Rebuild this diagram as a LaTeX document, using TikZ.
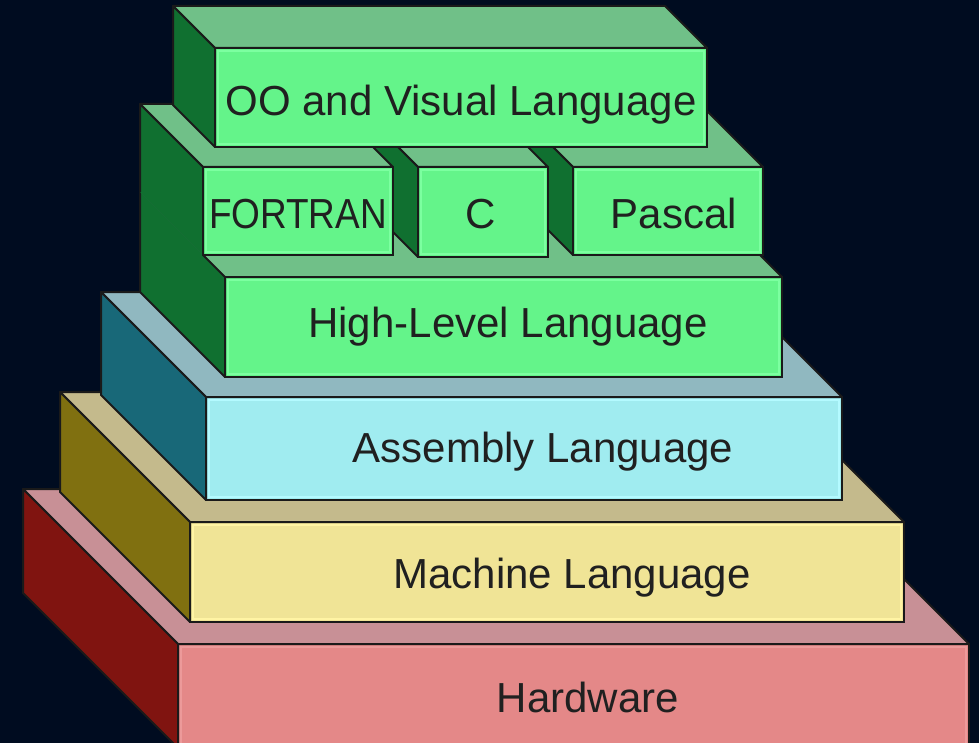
\documentclass[tikz,border=0pt]{standalone}
\usepackage{fontspec}
\setmainfont{Liberation Sans}
\newfontfamily\narrowsans[FakeStretch=0.88]{Liberation Sans}
\usepackage{tikz}
\usetikzlibrary{
    calc,
    positioning,
}
\definecolor{MyNavy}{HTML}{000C20}
\definecolor{MyEdge}{HTML}{1A1A1A}
\definecolor{MyInk}{HTML}{202020}
\definecolor{MyRose}{HTML}{E48888}
\definecolor{MyRoseTop}{HTML}{C89096}
\definecolor{MyRoseSide}{HTML}{801410}
\definecolor{MyRoseLite}{HTML}{EC9A9A}
\definecolor{MyCream}{HTML}{F0E496}
\definecolor{MyCreamTop}{HTML}{C4BA8C}
\definecolor{MyCreamSide}{HTML}{807010}
\definecolor{MyCreamLite}{HTML}{FFF4A4}
\definecolor{MyIce}{HTML}{A0ECF0}
\definecolor{MyIceTop}{HTML}{90B8C0}
\definecolor{MyIceSide}{HTML}{186878}
\definecolor{MyIceLite}{HTML}{B4FAFF}
\definecolor{MyMint}{HTML}{64F48A}
\definecolor{MyMintTop}{HTML}{70C088}
\definecolor{MyMintSide}{HTML}{107030}
\definecolor{MyMintLite}{HTML}{7CFFA0}
\tikzset{
    >=latex
}

\begin{document}
\begin{tikzpicture}[
    x=1pt,y=-1pt,
    front/.style={draw=MyEdge,line width=2.5pt,anchor=north west,inner sep=0pt,outer sep=0pt},
    face/.style={draw=MyEdge,line width=2pt,line join=round},
    lite/.style={draw=#1,line width=2.5pt},
    lbl/.style={anchor=base,font=\fontsize{42}{42}\selectfont,text=MyInk,inner sep=0pt}
    ]
    \useasboundingbox (0,0) rectangle (979,743);
    \fill[MyNavy] (0,0) rectangle (979,743);
    \clip (0,0) rectangle (979,743);

    % Hardware
    \node[front,fill=MyRose,minimum width=791pt,minimum height=104pt] (hw) at (178,644) {};
    \filldraw[face,fill=MyRoseTop] (hw.north west) -- (hw.north east) -- ++(-155,-155) -- ($(hw.north west)+(-155,-155)$) -- cycle;
    \filldraw[face,fill=MyRoseSide] (hw.north west) -- ($(hw.north west)+(-155,-155)$) -- ($(hw.south west)+(-155,-155)$) -- (hw.south west) -- cycle;
    \draw[lite=MyRoseLite] ([shift={(3,3)}]hw.north west) rectangle ([shift={(-3,-3)}]hw.south east);
    \node[lbl] (hwtext) at (588,712) {Hardware};

    % Machine
    \node[front,fill=MyCream,minimum width=714pt,minimum height=100pt] (mc) at (190,522) {};
    \filldraw[face,fill=MyCreamTop] (mc.north west) -- (mc.north east) -- ++(-130,-130) -- ($(mc.north west)+(-130,-130)$) -- cycle;
    \filldraw[face,fill=MyCreamSide] (mc.north west) -- ($(mc.north west)+(-130,-130)$) -- ($(mc.south west)+(-130,-130)$) -- (mc.south west) -- cycle;
    \draw[lite=MyCreamLite] ([shift={(3,3)}]mc.north west) rectangle ([shift={(-3,-3)}]mc.south east);
    \node[lbl] (mctext) at (572,588) {Machine Language};

    % Assembly
    \node[front,fill=MyIce,minimum width=636pt,minimum height=103pt] (asm) at (206,397) {};
    \filldraw[face,fill=MyIceTop] (asm.north west) -- (asm.north east) -- ++(-105,-105) -- ($(asm.north west)+(-105,-105)$) -- cycle;
    \filldraw[face,fill=MyIceSide] (asm.north west) -- ($(asm.north west)+(-105,-105)$) -- ($(asm.south west)+(-105,-105)$) -- (asm.south west) -- cycle;
    \draw[lite=MyIceLite] ([shift={(3,3)}]asm.north west) rectangle ([shift={(-3,-3)}]asm.south east);
    \node[lbl] (asmtext) at (543,462) {Assembly Language};

    % High-Level (left edge stroked only up to FORTRAN, so the side reads as one face)
    \node[front,fill=MyMint,minimum width=557pt,minimum height=100pt] (hl) at (225,277) {};
    \fill[MyMintTop] (hl.north west) -- (hl.north east) -- ++(-85,-85) -- ($(hl.north west)+(-85,-85)$) -- cycle;
    \draw[face] (hl.north west) -- (hl.north east) -- ++(-85,-85) -- ($(hl.north west)+(-85,-85)$);
    \fill[MyMintSide] (hl.north west) -- ($(hl.north west)+(-85,-85)$) -- ($(hl.south west)+(-85,-85)$) -- (hl.south west) -- cycle;
    \draw[face] ($(hl.north west)+(-22,-22)$) -- (hl.north west) -- (hl.south west) -- ($(hl.south west)+(-85,-85)$) -- ($(hl.north west)+(-85,-85)$);
    \draw[lite=MyMintLite] ([shift={(3,3)}]hl.north west) rectangle ([shift={(-3,-3)}]hl.south east);
    \node[lbl] (hltext) at (508,337) {High-Level Language};

    % Pascal, C, FORTRAN (right to left)
    \node[front,fill=MyMint,minimum width=190pt,minimum height=88pt] (pa) at (573,167) {};
    \filldraw[face,fill=MyMintTop] (pa.north west) -- (pa.north east) -- ++(-65,-65) -- ($(pa.north west)+(-65,-65)$) -- cycle;
    \filldraw[face,fill=MyMintSide] (pa.north west) -- ($(pa.north west)+(-65,-65)$) -- ($(pa.south west)+(-65,-65)$) -- (pa.south west) -- cycle;
    \draw[lite=MyMintLite] ([shift={(3,3)}]pa.north west) rectangle ([shift={(-3,-3)}]pa.south east);
    \node[lbl] (patext) at (674,229) {Pascal};

    \node[front,fill=MyMint,minimum width=130pt,minimum height=90pt] (cc) at (418,167) {};
    \filldraw[face,fill=MyMintTop] (cc.north west) -- (cc.north east) -- ++(-65,-65) -- ($(cc.north west)+(-65,-65)$) -- cycle;
    \filldraw[face,fill=MyMintSide] (cc.north west) -- ($(cc.north west)+(-65,-65)$) -- ($(cc.south west)+(-65,-65)$) -- (cc.south west) -- cycle;
    \draw[lite=MyMintLite] ([shift={(3,3)}]cc.north west) rectangle ([shift={(-3,-3)}]cc.south east);
    \node[lbl] (cctext) at (481,229) {C};

    \node[front,fill=MyMint,minimum width=190pt,minimum height=88pt] (ft) at (203,167) {};
    \filldraw[face,fill=MyMintTop] (ft.north west) -- (ft.north east) -- ++(-63,-63) -- ($(ft.north west)+(-63,-63)$) -- cycle;
    \fill[MyMintSide] (ft.north west) -- ($(ft.north west)+(-63,-63)$) -- ($(ft.south west)+(-63,-63)$) -- (ft.south west) -- cycle;
    \draw[face] (ft.south west) -- (ft.north west) -- ($(ft.north west)+(-63,-63)$) -- ($(ft.south west)+(-63,-63)$);
    \draw[lite=MyMintLite] ([shift={(3,3)}]ft.north west) rectangle ([shift={(-3,-3)}]ft.south east);
    \node[lbl,font=\narrowsans\fontsize{42}{42}\selectfont] (fttext) at (298,229) {FORTRAN};

    % OO and Visual
    \node[front,fill=MyMint,minimum width=492pt,minimum height=99pt] (oo) at (215,48) {};
    \filldraw[face,fill=MyMintTop] (oo.north west) -- (oo.north east) -- ++(-42,-42) -- ($(oo.north west)+(-42,-42)$) -- cycle;
    \filldraw[face,fill=MyMintSide] (oo.north west) -- ($(oo.north west)+(-42,-42)$) -- ($(oo.south west)+(-42,-42)$) -- (oo.south west) -- cycle;
    \draw[lite=MyMintLite] ([shift={(3,3)}]oo.north west) rectangle ([shift={(-3,-3)}]oo.south east);
    \node[lbl] (ootext) at (461,116) {OO and Visual Language};
\end{tikzpicture}
\end{document}
